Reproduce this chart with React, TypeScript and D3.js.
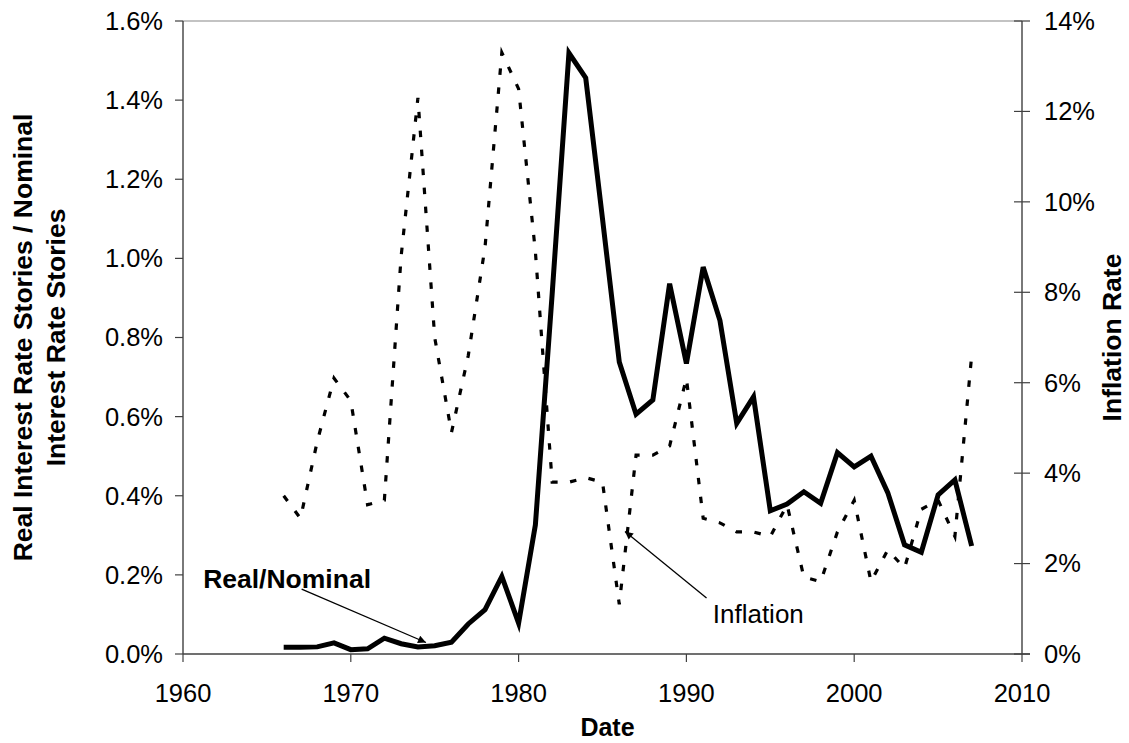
import { useEffect, useRef } from "react";
import * as d3 from "d3";

// years covered by both series
const years = d3.range(1966, 2008);

// ratio of real-rate stories to nominal-rate stories (%)
const realNominal = [
  0.017, 0.017, 0.018, 0.028, 0.011, 0.013, 0.040, 0.026, 0.018, 0.021,
  0.030, 0.076, 0.112, 0.196, 0.078, 0.326, 0.910, 1.519, 1.456, 1.100,
  0.738, 0.606, 0.642, 0.936, 0.734, 0.978, 0.843, 0.583, 0.650, 0.362,
  0.379, 0.410, 0.381, 0.509, 0.473, 0.500, 0.408, 0.276, 0.257, 0.402,
  0.440, 0.273,
];

// inflation rate (%)
const inflation = [
  3.5, 3.0, 4.7, 6.1, 5.6, 3.3, 3.4, 8.8, 12.3, 7.0,
  4.9, 6.6, 9.0, 13.3, 12.5, 8.9, 3.8, 3.8, 3.9, 3.8,
  1.1, 4.4, 4.4, 4.6, 6.1, 3.0, 2.9, 2.7, 2.7, 2.6,
  3.3, 1.7, 1.6, 2.7, 3.4, 1.6, 2.3, 1.9, 3.2, 3.4,
  2.6, 6.6,
];

const xTicks = [1960, 1970, 1980, 1990, 2000, 2010];
const leftTicks = [0, 0.2, 0.4, 0.6, 0.8, 1.0, 1.2, 1.4, 1.6];
const rightTicks = [0, 2, 4, 6, 8, 10, 12, 14];

const FONT = "'Liberation Sans', Arial, Helvetica, sans-serif";

export default function App() {
  const svgRef = useRef(null);

  useEffect(() => {
    const width = 1129;
    const height = 743;
    const margin = { top: 21, right: 107, bottom: 89, left: 183 };

    const svg = d3.select(svgRef.current);
    svg.selectAll("*").remove();
    svg.attr("width", width).attr("height", height);

    const x = d3.scaleLinear().domain([1960, 2010]).range([margin.left, width - margin.right]);
    const yL = d3.scaleLinear().domain([0, 1.6]).range([height - margin.bottom, margin.top]);
    const yR = d3.scaleLinear().domain([0, 14]).range([height - margin.bottom, margin.top]);

    const x0 = x.range()[0];
    const x1 = x.range()[1];
    const yB = yL.range()[0];
    const yT = yL.range()[1];
    const yMid = (yT + yB) / 2;

    // top border of plot area
    svg.append("line")
      .attr("x1", x0).attr("x2", x1).attr("y1", yT).attr("y2", yT)
      .attr("stroke", "#888").attr("stroke-width", 1.2);

    // inflation (dashed) drawn first
    const lineR = d3.line<number>()
      .x((_, i) => x(years[i]))
      .y(d => yR(d));
    svg.append("path")
      .attr("d", lineR(inflation))
      .attr("fill", "none")
      .attr("stroke", "#000")
      .attr("stroke-width", 3.2)
      .attr("stroke-dasharray", "6.5 12.5");

    const lineL = d3.line<number>()
      .x((_, i) => x(years[i]))
      .y(d => yL(d));
    svg.append("path")
      .attr("d", lineL(realNominal))
      .attr("fill", "none")
      .attr("stroke", "#000")
      .attr("stroke-width", 5)
      .attr("stroke-linejoin", "miter");

    // axes
    const axisColor = "#404040";
    svg.append("line")
      .attr("x1", x0).attr("x2", x0).attr("y1", yT).attr("y2", yB)
      .attr("stroke", axisColor).attr("stroke-width", 1.4);
    svg.append("line")
      .attr("x1", x1).attr("x2", x1).attr("y1", yT).attr("y2", yB)
      .attr("stroke", axisColor).attr("stroke-width", 1.4);
    svg.append("line")
      .attr("x1", x0).attr("x2", x1 + 8).attr("y1", yB).attr("y2", yB)
      .attr("stroke", axisColor).attr("stroke-width", 1.4);

    // left ticks + labels
    leftTicks.forEach(t => {
      svg.append("line")
        .attr("x1", x0 - 8).attr("x2", x0).attr("y1", yL(t)).attr("y2", yL(t))
        .attr("stroke", axisColor).attr("stroke-width", 1.2);
      svg.append("text")
        .attr("x", x0 - 20).attr("y", yL(t))
        .attr("dy", "0.35em")
        .attr("text-anchor", "end")
        .attr("font-family", FONT).attr("font-size", 25.5)
        .text(t.toFixed(1) + "%");
    });

    // right ticks + labels
    rightTicks.forEach(t => {
      svg.append("line")
        .attr("x1", x1 - 8).attr("x2", x1 + 8).attr("y1", yR(t)).attr("y2", yR(t))
        .attr("stroke", axisColor).attr("stroke-width", 1.2);
      svg.append("text")
        .attr("x", x1 + 22).attr("y", yR(t))
        .attr("dy", "0.35em")
        .attr("text-anchor", "start")
        .attr("font-family", FONT).attr("font-size", 25.5)
        .text(t + "%");
    });

    // bottom ticks + labels
    xTicks.forEach(t => {
      svg.append("line")
        .attr("x1", x(t)).attr("x2", x(t)).attr("y1", yB).attr("y2", yB + 8)
        .attr("stroke", axisColor).attr("stroke-width", 1.2);
      svg.append("text")
        .attr("x", x(t)).attr("y", yB + 48)
        .attr("text-anchor", "middle")
        .attr("font-family", FONT).attr("font-size", 25.5)
        .text(t);
    });

    // axis titles
    svg.append("text")
      .attr("x", (x0 + x1) / 2 + 5).attr("y", 736)
      .attr("text-anchor", "middle")
      .attr("font-family", FONT).attr("font-size", 25).attr("font-weight", "bold")
      .text("Date");

    const leftTitle = svg.append("text")
      .attr("transform", `translate(32,${yMid}) rotate(-90)`)
      .attr("text-anchor", "middle")
      .attr("font-family", FONT).attr("font-size", 26.5).attr("font-weight", "bold");
    leftTitle.append("tspan").attr("x", 0).attr("y", 0).text("Real Interest Rate Stories / Nominal");
    leftTitle.append("tspan").attr("x", 0).attr("y", 33).text("Interest Rate Stories");

    svg.append("text")
      .attr("transform", `translate(1121,${yMid}) rotate(-90)`)
      .attr("text-anchor", "middle")
      .attr("font-family", FONT).attr("font-size", 26.5).attr("font-weight", "bold")
      .text("Inflation Rate");

    // annotations
    const defs = svg.append("defs");
    defs.append("marker")
      .attr("id", "arrow")
      .attr("viewBox", "0 0 10 10")
      .attr("refX", 10).attr("refY", 5)
      .attr("markerWidth", 10).attr("markerHeight", 8)
      .attr("markerUnits", "userSpaceOnUse")
      .attr("orient", "auto")
      .append("path")
      .attr("d", "M0,0 L10,5 L0,10 Z")
      .attr("fill", "#000");

    svg.append("text")
      .attr("x", x(1961.2)).attr("y", yL(0.168))
      .attr("font-family", FONT).attr("font-size", 26.5).attr("font-weight", "bold")
      .text("Real/Nominal");
    svg.append("line")
      .attr("x1", x(1967.07)).attr("y1", yL(0.164))
      .attr("x2", x(1974.48)).attr("y2", yL(0.029))
      .attr("stroke", "#000").attr("stroke-width", 1.3)
      .attr("marker-end", "url(#arrow)");

    svg.append("text")
      .attr("x", x(1991.57)).attr("y", yR(0.68))
      .attr("font-family", FONT).attr("font-size", 26)
      .text("Inflation");
    svg.append("line")
      .attr("x1", x(1991.2)).attr("y1", yR(1.24))
      .attr("x2", x(1986.34)).attr("y2", yR(2.71))
      .attr("stroke", "#000").attr("stroke-width", 1.3)
      .attr("marker-end", "url(#arrow)");
  }, []);

  return (
    <svg
      ref={svgRef}
      style={{ position: "absolute", left: 0, top: 0, display: "block", background: "#fff" }}
    />
  );
}
